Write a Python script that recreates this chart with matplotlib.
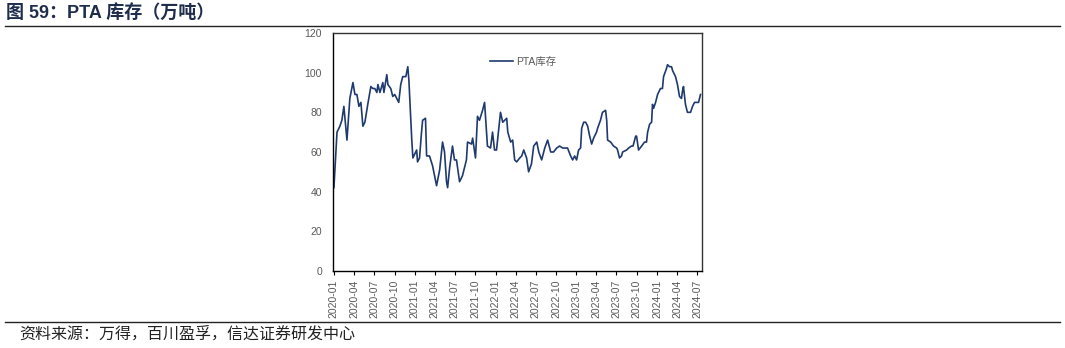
import pandas as pd
import matplotlib.pyplot as plt
import matplotlib.dates as mdates

plt.rcParams['font.family'] = ['Liberation Sans', 'Noto Sans CJK SC']

# PTA inventory (10k tonnes), weekly readings
dates = [
    "2020-01-01", "2020-01-15", "2020-01-28", "2020-02-06", "2020-02-15", "2020-02-29",
    "2020-03-13", "2020-03-27", "2020-04-05", "2020-04-14", "2020-04-23", "2020-05-02",
    "2020-05-11", "2020-05-20", "2020-06-02", "2020-06-16", "2020-06-25", "2020-07-04",
    "2020-07-13", "2020-07-18", "2020-07-27", "2020-08-09", "2020-08-14", "2020-08-27",
    "2020-09-01", "2020-09-14", "2020-09-23", "2020-10-02", "2020-10-11", "2020-10-20",
    "2020-10-29", "2020-11-07", "2020-11-21", "2020-11-30", "2020-12-05", "2020-12-18",
    "2020-12-23", "2021-01-09", "2021-01-13", "2021-01-22", "2021-01-31", "2021-02-05",
    "2021-02-18", "2021-02-23", "2021-03-08", "2021-03-22", "2021-04-09", "2021-04-23",
    "2021-05-06", "2021-05-15", "2021-05-24", "2021-05-29", "2021-06-07", "2021-06-20",
    "2021-06-29", "2021-07-08", "2021-07-22", "2021-08-04", "2021-08-22", "2021-08-27",
    "2021-09-14", "2021-09-19", "2021-10-02", "2021-10-11", "2021-10-20", "2021-11-03",
    "2021-11-12", "2021-11-25", "2021-12-09", "2021-12-18", "2021-12-27", "2022-01-05",
    "2022-01-23", "2022-02-02", "2022-02-11", "2022-02-20", "2022-02-25", "2022-03-10",
    "2022-03-19", "2022-03-28", "2022-04-06", "2022-04-20", "2022-04-29", "2022-05-08",
    "2022-05-21", "2022-05-30", "2022-06-12", "2022-06-22", "2022-07-06", "2022-07-15",
    "2022-07-28", "2022-08-11", "2022-08-24", "2022-09-07", "2022-09-20", "2022-10-04",
    "2022-10-17", "2022-10-31", "2022-11-13", "2022-11-22", "2022-12-06", "2022-12-15",
    "2022-12-24", "2023-01-02", "2023-01-11", "2023-01-20", "2023-01-25", "2023-02-03",
    "2023-02-12", "2023-02-21", "2023-03-02", "2023-03-11", "2023-03-20", "2023-04-02",
    "2023-04-07", "2023-04-20", "2023-04-29", "2023-05-13", "2023-05-18", "2023-05-22",
    "2023-06-05", "2023-06-18", "2023-07-02", "2023-07-06", "2023-07-15", "2023-07-24",
    "2023-07-29", "2023-08-16", "2023-08-25", "2023-09-07", "2023-09-14", "2023-09-26",
    "2023-09-30", "2023-10-09", "2023-10-23", "2023-11-05", "2023-11-14", "2023-11-19",
    "2023-11-28", "2023-12-07", "2023-12-11", "2023-12-16", "2023-12-25", "2024-01-03",
    "2024-01-16", "2024-01-25", "2024-01-30", "2024-02-12", "2024-02-17", "2024-02-26",
    "2024-03-06", "2024-03-11", "2024-03-24", "2024-04-02", "2024-04-11", "2024-04-20",
    "2024-04-25", "2024-04-29", "2024-05-08", "2024-05-17", "2024-05-31", "2024-06-09",
    "2024-06-18", "2024-06-27", "2024-07-06", "2024-07-15",
]
pta_stock = [
    42, 70, 73, 76, 83, 66,
    87, 95, 89, 89, 83, 85,
    73, 75, 84, 93, 92, 92,
    90, 94, 90, 95, 90, 99,
    94, 92, 88, 89, 87, 85,
    94, 98, 98, 103, 96, 66,
    57, 61, 55, 57, 70, 76,
    77, 58, 58, 53, 43, 51,
    65, 60, 45, 42, 52, 63,
    56, 56, 45, 48, 56, 65,
    64, 67, 57, 78, 76, 81,
    85, 63, 62, 70, 61, 61,
    80, 75, 76, 77, 70, 65,
    66, 56, 55, 57, 58, 61,
    57, 50, 54, 63, 65, 60,
    56, 62, 66, 60, 60, 62,
    63, 62, 62, 62, 58, 56,
    58, 56, 61, 62, 72, 75,
    75, 73, 68, 64, 67, 70,
    72, 76, 80, 81, 76, 66,
    65, 63, 62, 61, 57, 58,
    60, 61, 62, 63, 63, 68,
    68, 61, 63, 65, 65, 70,
    74, 75, 84, 82, 85, 89,
    92, 92, 98, 102, 104, 103,
    103, 101, 98, 94, 88, 87,
    91, 93, 84, 80, 80, 83,
    85, 85, 85, 89,
]

series = pd.Series(pta_stock, index=pd.to_datetime(dates))

navy = "#1f3a6e"
grey = "#595959"

fig = plt.figure(figsize=(10.65, 3.48), dpi=100)
ax = fig.add_axes([0.3127, 0.2213, 0.3465, 0.6839])

ax.plot(series.index, series.values, color=navy, lw=1.2, label="PTA库存")

ax.set_ylim(0, 120)
ax.set_yticks(range(0, 121, 20))
ax.set_xlim(pd.Timestamp("2019-12-28"), pd.Timestamp("2024-07-22"))
ax.xaxis.set_major_locator(mdates.MonthLocator(bymonth=[1, 4, 7, 10]))
ax.xaxis.set_major_formatter(mdates.DateFormatter("%Y-%m"))

ax.tick_params(axis="y", length=0, pad=8, labelsize=7.5, labelcolor=grey)
ax.tick_params(axis="x", length=3, width=0.8, direction="out", pad=3,
               labelsize=7.5, labelcolor=grey, rotation=90)
for side in ["left", "bottom"]:
    ax.spines[side].set_color("black")
    ax.spines[side].set_linewidth(1.0)
for side in ["top", "right"]:
    ax.spines[side].set_color("#333333")
    ax.spines[side].set_linewidth(1.0)

leg = ax.legend(loc="upper left", bbox_to_anchor=(0.4, 0.94), frameon=False,
                fontsize=7.5, handlelength=2.2, handletextpad=0.3)
for t in leg.get_texts():
    t.set_color(grey)

# header and footer
fig.text(0.006, 0.962, "图 59：PTA 库存（万吨）", fontsize=13, fontweight="bold",
         color="#1f2d4d", va="center", ha="left")
fig.add_artist(plt.Line2D([0.005, 0.995], [0.925, 0.925], color="#222222", lw=1.0))
fig.add_artist(plt.Line2D([0.005, 0.995], [0.074, 0.074], color="#222222", lw=1.0))
fig.text(0.018, 0.04, "资料来源：万得，百川盈孚，信达证券研发中心", fontsize=11.5,
         color="#222222", va="center", ha="left", style="italic")

fig.savefig("out.png", dpi=100)
